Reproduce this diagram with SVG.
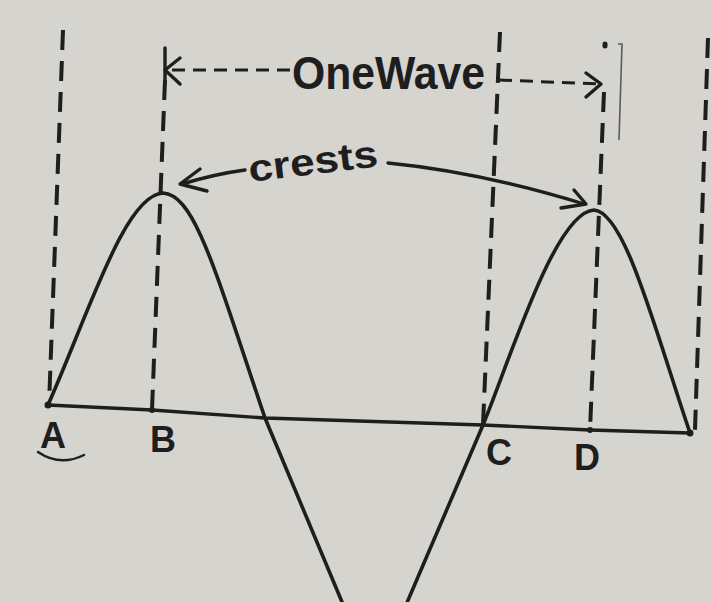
<svg xmlns="http://www.w3.org/2000/svg" width="712" height="602" viewBox="0 0 712 602">
<style>
.ink{fill:none;stroke:#1e1e1e;stroke-linecap:round;stroke-linejoin:round}
.wave{stroke-width:3.6}
.dash{stroke-width:4;stroke-dasharray:20 11;stroke-linecap:butt}
.dim{stroke-width:3;stroke-dasharray:13 8;stroke-linecap:butt}
.arr{stroke-width:3.4}
.lbl{font-family:"Liberation Sans",Arial,sans-serif;font-weight:bold;fill:#1e1e1e}
</style>
<rect width="712" height="602" fill="#d6d4ce"/>
<g id="connectors">
<path class="ink dash" d="M63,30 L49,405"/>
<path class="ink dash" d="M165,80 L152,410"/>
<path class="ink dash" d="M500,32 L483,425"/>
<path class="ink dash" d="M604,92 L590,430"/>
<path class="ink dash" d="M708,38 L695,430"/>
<path d="M618,44 L622,44 L619,140" fill="none" stroke="#5a5a5a" stroke-width="1.6"/>
<path class="ink dim" d="M172,70 L290,70"/>
<path class="ink arr" d="M180,58 L165,70 L180,84"/>
<path class="ink" d="M165,48 L165,84" stroke-width="3.4"/>
<path class="ink dim" d="M499,80 L600,84"/>
<path class="ink arr" d="M586,73 L601,84 L586,97"/>
<path class="ink" d="M605,44 L605,46" stroke-width="5"/>
<path class="ink arr" d="M245,170 Q215,174 182,184"/>
<path class="ink arr" d="M200,169 L180,184 L207,191"/>
<path class="ink arr" d="M388,163 Q480,172 584,204"/>
<path class="ink arr" d="M574,190 L586,204 L561,208"/>
</g>
<g id="axis">
<polyline class="ink" stroke-width="3.4" points="48,405 152,410 265,418 483,425 590,430 690,433"/>
<circle cx="152" cy="410" r="3" fill="#1e1e1e"/>
<circle cx="590" cy="430" r="3" fill="#1e1e1e"/>
<circle cx="690" cy="433" r="3.5" fill="#1e1e1e"/>
<circle cx="48" cy="405" r="3.5" fill="#1e1e1e"/>
</g>
<g id="wave">
<path class="ink wave" d="M48,405 C90,310 125,195 163,193 C195,195 215,270 265,418 L342,602 C350,622 360,640 373,640 C386,640 398,625 406,605 L483,425 C510,360 555,212 594,210 C625,212 655,330 690,433"/>
</g>
<g id="title">
<text class="lbl" x="292" y="89" font-size="46" textLength="193" lengthAdjust="spacingAndGlyphs">OneWave</text>
</g>
<g id="crests">
<text class="lbl" x="250" y="182" font-size="38" textLength="130" lengthAdjust="spacingAndGlyphs" transform="rotate(-7 250 182)">crests</text>
</g>
<g id="A"><text class="lbl" x="40" y="448" font-size="36">A</text>
<path class="ink" stroke-width="2.5" d="M38,452 Q60,467 84,455"/></g>
<g id="B"><text class="lbl" x="150" y="452" font-size="36">B</text></g>
<g id="C"><text class="lbl" x="486" y="465" font-size="36">C</text></g>
<g id="D"><text class="lbl" x="574" y="470" font-size="36">D</text></g>
</svg>
